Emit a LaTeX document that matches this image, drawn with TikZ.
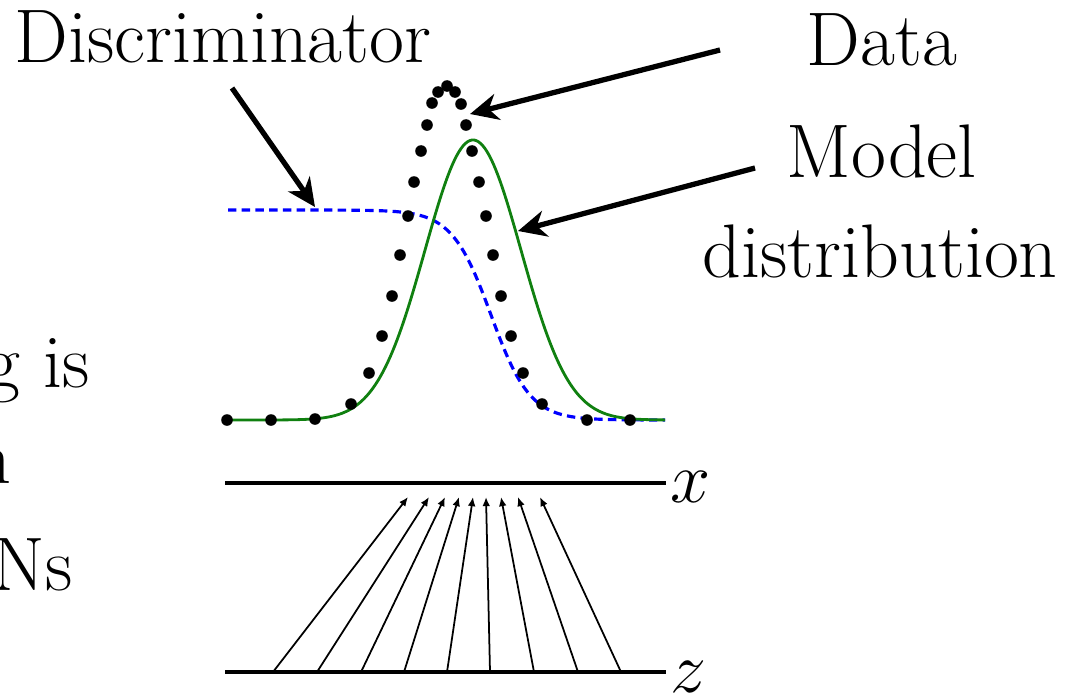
\RequirePackage{fix-cm}
\documentclass[tikz,border=0pt]{standalone}
\usepackage{fontspec}
\usetikzlibrary{arrows.meta}
\definecolor{modelgreen}{RGB}{16,128,16}
\definecolor{discblue}{RGB}{0,0,255}
\tikzset{
  lbl/.style={anchor=base west, inner sep=0pt, font=\fontsize{21.6}{26}\selectfont},
  axlbl/.style={anchor=west, inner sep=0pt, font=\fontsize{20.5}{25}\selectfont},
  bigarrow/.style={line width=1.5pt, -{Stealth[length=8pt,width=7.5pt,inset=2.5pt]}},
  maparrow/.style={line width=0.5pt, -{Latex[length=2.6pt,width=2.2pt]}},
  axisline/.style={line width=1.4pt},
  datadot/.style={fill=black},
}
\begin{document}
\begin{tikzpicture}[x={(0.01cm,0)}, y={(0,-0.01cm)}]
\useasboundingbox (0,0) rectangle (1065,697);
\clip (0,0) rectangle (1065,697);

% partial slide text at the left
\node[lbl] (t1) at (-15,387) {g is};
\node[lbl] (t2) at (-28,483) {n};
\node[lbl] (t3) at (-8,590) {Ns};

% labels
\node[lbl] (disc) at (14,62) {Discriminator};
\node[lbl] (data) at (806,65) {Data};
\node[lbl] (model) at (786,177) {Model};
\node[lbl] (dist) at (702,277) {distribution};

% discriminator (blue dashed sigmoid)
\draw[discblue, line width=0.9pt, dash pattern=on 2.4pt off 1.5pt]
  plot[domain=228:665, samples=160] (\x, {210+210/(1+exp(min(8,max(-8,-(\x-491)/19.5))))});

% model distribution (green gaussian)
\draw[modelgreen, line width=0.8pt]
  plot[domain=228:665, samples=200] (\x, {420-280*exp(-0.5*((\x-473)/48)^2)});

% data (black dots)
\foreach \px/\py in {227/420,271/420,315/419,351/404,369/373,382/336,392/296,400/255,408/216,414/182,421/151,427/125,432/103,438/92,447/86,455/92,461/104,466/125,472/151,479/182,486/216,493/255,501/296,511/336,523/373,542/404,587/420,630/420}
  \fill[datadot] (\px,\py) circle[radius=1.65pt];

% pointer arrows
\coordinate (discTail) at (232,88);
\coordinate (discTip) at (315,207);
\coordinate (dataTail) at (720,50);
\coordinate (dataTip) at (470,114);
\coordinate (modelTail) at (755,168);
\coordinate (modelTip) at (518,231);
\draw[bigarrow] (discTail) -- (discTip);
\draw[bigarrow] (dataTail) -- (dataTip);
\draw[bigarrow] (modelTail) -- (modelTip);

% x and z lines
\coordinate (xL) at (225,483);
\coordinate (xR) at (666,483);
\coordinate (zL) at (225,672);
\coordinate (zR) at (666,672);
\draw[axisline] (xL) -- (xR);
\draw[axisline] (zL) -- (zR);
\node[axlbl] (xlab) at (670,487) {$x$};
\node[axlbl] (zlab) at (670,677) {$z$};

% mapping arrows z -> x
\foreach \a/\b [count=\i] in {273/408,317/429,361/445,404/459,447/473,490/486,534/501,578/518,621/540}{
  \coordinate (zs\i) at (\a,672);
  \coordinate (xe\i) at (\b,497);
  \draw[maparrow] (zs\i) -- (xe\i);
}
\end{tikzpicture}
\end{document}
